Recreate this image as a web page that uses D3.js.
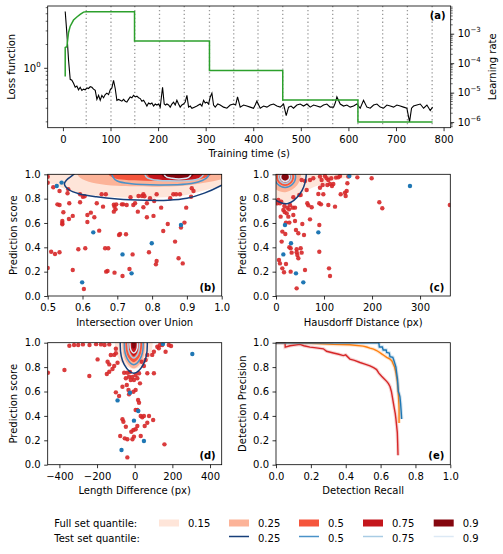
<!DOCTYPE html>
<html>
<head>
<meta charset="utf-8">
<script src="https://cdn.jsdelivr.net/npm/d3@7"></script>
<style>
  body { margin: 0; background: #fff; }
  svg { font-family: "DejaVu Sans", sans-serif; font-size: 10px; }
</style>
</head>
<body>
<svg id="viz"></svg>
<script>
// ---------- data ----------

// (a) loss over training time [s, loss]
const lossCurve = [
  [4.8,5.34],[8.3,2.79],[11.8,1.26],[15.3,0.71],[18.8,0.69],[22.3,0.63],[25.8,0.56],[29.3,0.58],
  [32.8,0.52],[36.3,0.56],[39.8,0.51],[43.3,0.53],[46.8,0.52],[50.4,0.55],[53.9,0.54],[57.4,0.57],
  [60.9,0.56],[64.4,0.53],[67.9,0.51],[71.4,0.39],[74.9,0.44],[78.4,0.38],[81.9,0.44],[85.4,0.41],
  [88.9,0.45],[92.4,0.47],[95.9,0.45],[99.4,0.52],[102.9,0.55],[106.4,0.69],[109.9,0.54],[113.4,0.38],
  [116.9,0.39],[120.4,0.38],[123.9,0.37],[127.4,0.39],[130.9,0.37],[134.4,0.36],[137.9,0.39],[141.4,0.42],
  [144.9,0.41],[148.4,0.44],[152.0,0.42],[155.5,0.43],[159.0,0.41],[162.5,0.40],[166.0,0.37],[169.5,0.38],
  [173.0,0.35],[176.5,0.32],[180.0,0.35],[183.5,0.34],[187.0,0.35],[190.5,0.32],[194.0,0.34],[197.5,0.33],
  [201.0,0.34],[204.5,0.31],[209.4,0.56],[212.9,0.34],[215.7,0.33],[218.5,0.34],[222.0,0.33],[225.5,0.31],
  [229.0,0.34],[232.5,0.36],[236.0,0.33],[239.5,0.38],[243.0,0.34],[246.5,0.31],[250.0,0.33],[253.5,0.34],
  [257.0,0.36],[260.6,0.44],[264.1,0.31],[267.6,0.32],[271.1,0.30],[276.3,0.31],[281.6,0.32],[285.1,0.33],
  [288.6,0.34],[292.1,0.32],[295.6,0.38],[299.1,0.35],[302.6,0.36],[306.1,0.34],[309.6,0.42],[313.1,0.47],
  [316.6,0.33],[320.1,0.31],[325.4,0.34],[330.6,0.33],[337.6,0.31],[344.6,0.30],[351.6,0.33],[358.6,0.34],
  [363.0,0.33],[367.0,0.42],[372.6,0.31],[379.6,0.33],[386.6,0.32],[393.6,0.31],[400.6,0.30],[404.1,0.33],
  [407.6,0.37],[414.7,0.30],[421.7,0.32],[428.7,0.31],[435.7,0.33],[442.7,0.34],[449.7,0.32],[456.7,0.31],
  [463.7,0.34],[469.3,0.24],[474.2,0.31],[479.5,0.32],[484.7,0.30],[491.7,0.33],[498.7,0.34],[505.7,0.32],
  [512.7,0.34],[519.7,0.31],[526.7,0.33],[533.7,0.32],[540.7,0.31],[547.7,0.33],[554.7,0.34],[561.7,0.31],
  [568.8,0.31],[572.3,0.35],[575.8,0.42],[582.8,0.34],[589.8,0.32],[596.8,0.33],[603.8,0.31],[610.8,0.32],
  [617.8,0.34],[624.8,0.30],[631.8,0.38],[638.9,0.31],[645.9,0.30],[652.9,0.33],[659.9,0.34],[666.9,0.31],
  [673.9,0.30],[680.9,0.33],[687.9,0.32],[694.9,0.31],[701.9,0.33],[708.9,0.32],[715.9,0.31],[722.9,0.30],
  [728.5,0.20],[732.7,0.30],[736.9,0.32],[744.0,0.33],[751.0,0.34],[758.0,0.30],[765.0,0.33],[772.0,0.28],
  [776.9,0.31]
];
// (a) learning rate [s, lr]
const lrCurve = [
  [4.8,3.5e-5],[4.8,3.4e-4],[8.3,3.6e-4],[11.8,1.1e-3],[15.3,1.8e-3],[22.3,2.9e-3],[29.3,3.7e-3],
  [36.3,4.5e-3],[43.3,5.4e-3],[49,5.6e-3],[150.5,5.6e-3],[150.5,5.6e-4],[308,5.6e-4],[308,5.6e-5],
  [462,5.6e-5],[462,5.6e-6],[620,5.6e-6],[620,1e-6],[776.9,1e-6]
];
const epochTimes = [49, 101, 151, 203, 255, 308, 359, 410, 462, 515, 567, 620, 672, 724, 776];
const timeTicks = [0, 100, 200, 300, 400, 500, 600, 700, 800];
const lrTicks = [1e-3, 1e-4, 1e-5, 1e-6];
const lossMinorTicks = [0.2, 0.3, 0.4, 0.5, 0.6, 0.7, 0.8, 0.9, 2, 3, 4, 5, 6];

// (b) IoU vs prediction score
const iouRed = [
  [0.5,0.98],[0.5,0.93],[0.5,0.23],[0.516,0.893],[0.51,0.364],[0.521,0.345],[0.534,0.359],[0.528,0.753],
  [0.534,0.748],[0.545,0.688],[0.542,0.616],[0.542,0.589],[0.542,0.60],[0.534,0.863],[0.557,0.844],
  [0.559,0.877],[0.561,0.633],[0.562,0.762],[0.572,0.658],[0.572,0.214],[0.588,0.384],[0.593,0.77],
  [0.593,0.836],[0.601,0.816],[0.604,0.058],[0.608,0.392],[0.606,0.82],[0.614,0.666],[0.614,0.608],
  [0.624,0.685],[0.634,0.647],[0.641,0.762],[0.648,0.537],[0.655,0.836],[0.659,0.734],[0.667,0.836],
  [0.665,0.392],[0.668,0.2],[0.672,0.205],[0.674,0.392],[0.69,0.75],[0.692,0.734],[0.697,0.753],
  [0.695,0.712],[0.69,0.693],[0.692,0.192],[0.705,0.501],[0.708,0.51],[0.713,0.753],[0.717,0.753],
  [0.715,0.164],[0.725,0.507],[0.727,0.748],[0.735,0.222],[0.738,0.811],[0.744,0.342],[0.746,0.748],
  [0.751,0.762],[0.759,0.693],[0.761,0.822],[0.771,0.822],[0.775,0.836],[0.778,0.82],[0.775,0.729],
  [0.785,0.762],[0.785,0.647],[0.791,0.359],[0.794,0.803],[0.804,0.658],[0.806,0.781],[0.811,0.26],
  [0.813,0.288],[0.813,0.836],[0.826,0.726],[0.832,0.534],[0.845,0.592],[0.852,0.803],[0.861,0.836],
  [0.869,0.836],[0.88,0.836],[0.866,0.447],[0.876,0.31],[0.883,0.562],[0.888,0.268],[0.893,0.603],
  [0.898,0.726],[0.914,0.885],[0.912,0.816],[0.919,0.863]
];
const iouBlue = [[0.526,0.904],[0.54,0.932],[0.631,0.523],[0.599,0.112],[0.715,0.342],[0.741,0.186],[0.799,0.433],[0.883,0.584]];

// (c) Hausdorff distance vs prediction score
const hausRed = [
  [4.9,0.789],[2.8,0.762],[8.3,0.762],[11,0.775],[9.7,0.652],[11.8,0.447],[13.2,0.529],[6.2,0.296],
  [8.3,0.268],[13.2,0.227],[16.7,0.195],[20.8,0.263],[15.3,0.707],[18,0.69],[22.2,0.679],[20.8,0.603],
  [19.4,0.51],[17.4,0.74],[23.6,0.726],[25.7,0.652],[27.1,0.712],[27.8,0.603],[29.2,0.748],[27.8,0.40],
  [30.5,0.392],[32.6,0.356],[30.5,0.2],[36.1,0.811],[35,0.726],[36.1,0.666],[39.6,0.726],[39.6,0.616],
  [41.6,0.542],[43,0.384],[43,0.36],[44.4,0.337],[46.5,0.31],[43,0.063],[46.5,0.515],[48.6,0.83],
  [51.4,0.83],[51.4,0.392],[53.4,0.356],[54.8,0.592],[58.3,0.501],[60.4,0.214],[63.9,0.871],[65.2,0.762],
  [67.3,0.745],[70.8,0.63],[74.3,0.729],[53.4,0.953],[60.4,0.945],[70.8,0.953],[77.7,0.967],[91.6,0.981],
  [95,0.953],[97.2,0.912],[98.6,0.836],[102,0.986],[105.5,0.967],[106.9,0.912],[109,0.953],[112.5,0.92],
  [115,0.967],[116.6,0.904],[119.4,0.92],[125,0.973],[129.8,0.975],[133.3,0.986],[134.7,0.836],[143.7,0.849],
  [145.1,0.822],[147.2,0.863],[148.6,0.926],[150.6,0.981],[169.4,0.975],[199.2,0.967],[215.2,0.77],
  [221.4,0.721],[362,0.748],[90.2,0.762],[93.7,0.753],[88.2,0.838],[91.6,0.89],[109,0.748],[122.9,0.734],
  [90.2,0.584],[90.2,0.364],[110.4,0.227],[112.5,0.164]
];
const hausBlue = [[18.7,0.584],[15.3,0.342],[31.2,0.433],[41.6,0.186],[56.9,0.112],[88.2,0.523],[152.7,0.986],[279,0.904]];

// (d) length difference vs prediction score
const lenRed = [
  [-461,0.754],[-373,0.776],[-241,0.727],[-347,0.975],[-322,0.981],[-300,0.981],[-275,0.986],[-240,0.981],
  [-205,0.988],[-179,0.986],[-160,0.981],[-135,0.986],[-127,0.899],[-197,0.863],[-144,0.844],[-135,0.822],
  [-109,0.809],[-100,0.913],[-91,0.836],[-148,0.743],[-135,0.762],[-118,0.784],[-100,0.593],[-83,0.563],
  [-65,0.639],[-56,0.754],[-47,0.708],[-42,0.653],[-39,0.754],[-30,0.721],[-25,0.76],[-33,0.612],
  [-30,0.577],[-21,0.694],[-12,0.72],[-4,0.694],[5,0.735],[14,0.708],[23,0.749],[-7,0.598],[5,0.612],
  [18,0.53],[23,0.508],[67,0.749],[102,0.749],[28,0.667],[14,0.448],[5,0.448],[32,0.399],[40,0.388],
  [49,0.399],[76,0.399],[98,0.366],[67,0.344],[-65,0.372],[-60,0.352],[-47,0.311],[-18,0.27],[-7,0.284],
  [5,0.29],[14,0.317],[32,0.235],[53,0.317],[-77,0.235],[-53,0.216],[-39,0.208],[-12,0.208],[-4,0.23],
  [158,0.167],[-39,0.06],[67,0.9],[93,0.9],[102,0.926],[120,0.967],[128,0.954],[134,0.981],[146,0.981],
  [164,0.926],[181,0.981],[193,0.973],[37,0.844],[49,0.809],[58,0.858],[-100,0.95],[-109,0.9]
];
const lenBlue = [[-91,0.527],[-25,0.59],[19,0.44],[-4,0.361],[49,0.194],[-70,0.12],[150,0.989],[306,0.907]];

// (e) precision-recall curves [recall, precision]
const prBlue = [
  [0,1.0],[0.59,1.0],[0.593,0.965],[0.61,0.965],[0.615,0.94],[0.632,0.94],[0.635,0.92],[0.65,0.915],
  [0.654,0.885],[0.67,0.88],[0.675,0.86],[0.683,0.824],[0.688,0.8],[0.692,0.753],[0.697,0.7],[0.702,0.6],
  [0.707,0.58],[0.711,0.557],[0.715,0.5],[0.717,0.46],[0.721,0.375]
];
const prOrange = [
  [0,1.0],[0.138,1.0],[0.233,0.994],[0.329,0.986],[0.424,0.983],[0.5,0.972],[0.52,0.965],[0.539,0.955],
  [0.56,0.948],[0.577,0.936],[0.595,0.92],[0.606,0.908],[0.62,0.895],[0.635,0.88],[0.654,0.866],
  [0.665,0.85],[0.673,0.824],[0.68,0.8],[0.686,0.768],[0.692,0.72],[0.696,0.683],[0.7,0.62],[0.702,0.571],
  [0.705,0.5],[0.706,0.459],[0.706,0.342]
];
const prRed = [
  [0,1.0],[0.052,1.0],[0.053,0.964],[0.08,0.975],[0.138,0.986],[0.16,0.975],[0.195,0.964],[0.22,0.96],
  [0.272,0.95],[0.29,0.93],[0.329,0.916],[0.36,0.905],[0.386,0.894],[0.4,0.9],[0.424,0.866],[0.45,0.855],
  [0.482,0.838],[0.51,0.825],[0.539,0.81],[0.56,0.795],[0.577,0.78],[0.59,0.75],[0.606,0.725],[0.62,0.705],
  [0.635,0.683],[0.645,0.665],[0.654,0.641],[0.662,0.6],[0.669,0.543],[0.674,0.5],[0.679,0.459],
  [0.684,0.42],[0.688,0.375],[0.692,0.32],[0.696,0.263],[0.698,0.179],[0.7,0.078]
];

// quantile contours (vertices in data units)
const iouFullContours = [
  [[0.47,0.96],[0.52,0.915],[0.56,0.87],[0.62,0.83],[0.70,0.812],[0.80,0.808],[0.88,0.82],[0.94,0.86],[1.0,0.91],[1.05,0.97],[1.05,1.2],[0.75,1.2],[0.47,1.2]],
  [[0.58,1.2],[0.585,1.0],[0.60,0.96],[0.64,0.925],[0.70,0.905],[0.80,0.898],[0.88,0.903],[0.95,0.93],[1.0,0.96],[1.05,1.0],[1.05,1.2]],
  [[0.67,1.2],[0.675,1.0],[0.69,0.97],[0.72,0.955],[0.78,0.947],[0.85,0.945],[0.91,0.952],[0.95,0.97],[0.97,1.0],[0.975,1.2]],
  [[0.785,1.2],[0.79,0.985],[0.81,0.962],[0.85,0.95],[0.90,0.952],[0.935,0.97],[0.948,1.0],[0.95,1.2]],
  [[0.826,1.2],[0.83,0.985],[0.85,0.966],[0.88,0.96],[0.905,0.968],[0.918,0.99],[0.92,1.2]]
];
const iouTestContours = [
  [[0.59,1.06],[0.575,1.0],[0.555,0.955],[0.548,0.92],[0.56,0.875],[0.59,0.84],[0.64,0.815],[0.70,0.797],[0.78,0.787],[0.845,0.787],[0.90,0.803],[0.95,0.845],[1.0,0.91],[1.03,0.96],[1.05,1.2],[0.6,1.2]],
  [[0.684,1.2],[0.687,0.98],[0.70,0.945],[0.74,0.922],[0.82,0.913],[0.90,0.92],[0.94,0.945],[0.96,0.98],[0.966,1.2]],
  [[0.78,1.2],[0.783,0.98],[0.80,0.958],[0.85,0.946],[0.90,0.948],[0.935,0.965],[0.948,1.0],[0.952,1.2]],
  [[0.835,1.2],[0.838,0.985],[0.858,0.967],[0.885,0.963],[0.905,0.975],[0.912,1.0],[0.914,1.2]]
];
const hausFullContours = [
  [[170,1.0],[120,0.95],[70,0.88],[40,0.80],[20,0.765],[0,0.77],[-20,0.82],[-30,1.0],[0,1.15],[100,1.1]],
  [[52,0.99],[44,0.91],[22,0.855],[2,0.87],[-10,0.95],[0,1.07],[25,1.1],[50,1.06]],
  [[37.7,0.978],[32.1,0.926],[19,0.904],[5.9,0.926],[0.3,0.978],[5.9,1.03],[19,1.052],[32.1,1.03]],
  [[30.5,0.978],[27.1,0.947],[19,0.933],[10.9,0.947],[7.5,0.978],[10.9,1.01],[19,1.023],[27.1,1.01]],
  [[26.3,0.978],[24.1,0.958],[19,0.949],[13.9,0.958],[11.7,0.978],[13.9,0.998],[19,1.007],[24.1,0.998]]
];
const hausTestContours = [
  [[62,0.96],[50,0.84],[25,0.76],[5,0.775],[-15,0.85],[-25,0.98],[-10,1.15],[30,1.2],[60,1.08]],
  [[40.8,0.978],[34.3,0.918],[19,0.892],[3.7,0.918],[-2.8,0.978],[3.7,1.038],[19,1.064],[34.3,1.038]],
  [[32.5,0.978],[28.5,0.941],[19,0.925],[9.5,0.941],[5.5,0.978],[9.5,1.015],[19,1.031],[28.5,1.015]],
  [[28.4,0.978],[25.6,0.952],[19,0.941],[12.4,0.952],[9.6,0.978],[12.4,1.004],[19,1.015],[25.6,1.004]]
];
const lenFullContours = [
  [[95,0.985],[65,0.845],[-5,0.785],[-75,0.845],[-105,0.985],[-75,1.15],[-5,1.22],[65,1.15]],
  [[55,0.985],[37,0.848],[-5,0.79],[-47,0.848],[-65,0.985],[-47,1.12],[-5,1.18],[37,1.12]],
  [[39,0.985],[25.8,0.884],[-5,0.84],[-35.8,0.884],[-49,0.985],[-35.8,1.086],[-5,1.13],[25.8,1.086]],
  [[19,0.985],[11.8,0.919],[-5,0.89],[-21.8,0.919],[-29,0.985],[-21.8,1.05],[-5,1.08],[11.8,1.05]],
  [[6,0.985],[2.7,0.96],[-5,0.95],[-12.7,0.96],[-16,0.985],[-12.7,1.01],[-5,1.02],[2.7,1.01]]
];
const lenTestContours = [
  [[67,0.985],[45.4,0.82],[-5,0.75],[-55.4,0.82],[-77,0.985],[-55.4,1.15],[-5,1.22],[45.4,1.15]],
  [[45,0.985],[30,0.87],[-5,0.82],[-40,0.87],[-55,0.985],[-40,1.1],[-5,1.15],[30,1.1]],
  [[26,0.985],[16.7,0.908],[-5,0.875],[-26.7,0.908],[-36,0.985],[-26.7,1.062],[-5,1.095],[16.7,1.062]],
  [[15,0.985],[9,0.936],[-5,0.915],[-19,0.936],[-25,0.985],[-19,1.034],[-5,1.055],[9,1.034]]
];

const fullLevels = ["0.15", "0.25", "0.5", "0.75", "0.9"];
const testLevels = ["0.25", "0.5", "0.75", "0.9"];
const fullColors = ["#fee5d9", "#fcb398", "#f5553c", "#c4161c", "#85070f"];
const testColors = ["#173f7a", "#4a92c8", "#a9cce4", "#dce9f5"];

// ---------- drawing ----------
const width = 503, height = 554;
const svg = d3.select("#viz").attr("width", width).attr("height", height);

let translate = (x, y) => "translate(" + x + "," + y + ")";

function styleAxis(g) {
  g.select(".domain").remove();
  g.selectAll(".tick line").attr("stroke", "#000").attr("stroke-width", 0.8);
  g.selectAll(".tick text").attr("fill", "#000").attr("font-size", 10).attr("font-family", "DejaVu Sans");
}

function frame(box) {
  svg.append("rect")
    .attr("x", box.left).attr("y", box.top)
    .attr("width", box.right - box.left).attr("height", box.bottom - box.top)
    .attr("fill", "none").attr("stroke", "#000").attr("stroke-width", 0.8);
}

function clip(id, box) {
  svg.append("clipPath").attr("id", id).append("rect")
    .attr("x", box.left).attr("y", box.top)
    .attr("width", box.right - box.left).attr("height", box.bottom - box.top);
}

// powers of ten as "10" with a raised exponent
function powLabel(sel, exp) {
  sel.text("");
  sel.append("tspan").text("10");
  sel.append("tspan").attr("dy", -5).attr("font-size", 7).text(exp);
}

function minorTicks(g, scale, values, dir) {
  g.selectAll("line.minor").data(values).join("line")
    .attr("class", "minor")
    .attr("x1", 0).attr("x2", 2 * dir)
    .attr("y1", d => scale(d)).attr("y2", d => scale(d))
    .attr("stroke", "#000").attr("stroke-width", 0.6);
}

// ----- panel (a) -----
function drawTraining() {
  const box = {left: 47.7, right: 450.7, top: 6, bottom: 127.7};
  clip("clip-a", box);

  const x = d3.scaleLinear().domain([-32, 815]).range([box.left, box.right]);
  const yLoss = d3.scaleLog().domain([0.168, 6.3]).range([box.bottom, box.top]);
  const yLr = d3.scaleLog().domain([Math.pow(10, -6.19), Math.pow(10, -2.06)]).range([box.bottom, box.top]);

  const plot = svg.append("g").attr("clip-path", "url(#clip-a)");

  plot.selectAll("line.epoch").data(epochTimes).join("line")
    .attr("class", "epoch")
    .attr("x1", d => x(d)).attr("x2", d => x(d))
    .attr("y1", box.top).attr("y2", box.bottom)
    .attr("stroke", "#999").attr("stroke-width", 1.3).attr("stroke-dasharray", "1.3,2.6");

  plot.append("path").datum(lossCurve)
    .attr("fill", "none").attr("stroke", "#000").attr("stroke-width", 1.1)
    .attr("d", d3.line().x(d => x(d[0])).y(d => yLoss(d[1])));

  plot.append("path").datum(lrCurve)
    .attr("fill", "none").attr("stroke", "#2ca02c").attr("stroke-width", 1.5)
    .attr("d", d3.line().x(d => x(d[0])).y(d => yLr(d[1])));

  frame(box);

  svg.append("g").attr("transform", translate(0, box.bottom))
    .call(d3.axisBottom(x).tickValues(timeTicks).tickSize(3.5).tickPadding(4.5))
    .call(styleAxis);

  // left log axis: one labelled decade and minor ticks
  const left = svg.append("g").attr("transform", translate(box.left, 0))
    .call(d3.axisLeft(yLoss).tickValues([1]).tickSize(3.5).tickPadding(3.5))
    .call(styleAxis);
  left.selectAll(".tick text").each(function() { powLabel(d3.select(this), "0"); });
  minorTicks(left, yLoss, lossMinorTicks, -1);

  const right = svg.append("g").attr("transform", translate(box.right, 0))
    .call(d3.axisRight(yLr).tickValues(lrTicks).tickSize(3.5).tickPadding(3.5))
    .call(styleAxis);
  right.selectAll(".tick text").each(function(d) {
    powLabel(d3.select(this), "\u2212" + Math.round(-Math.log10(d)));
  });
  const lrMinor = yLr.ticks().filter(d => Math.abs(Math.log10(d) - Math.round(Math.log10(d))) > 1e-6);
  minorTicks(right, yLr, lrMinor, 1);

  svg.append("text").attr("x", (box.left + box.right) / 2).attr("y", box.bottom + 29.5)
    .attr("text-anchor", "middle").text("Training time (s)");
  svg.append("text").attr("transform", translate(11, (box.top + box.bottom) / 2) + " rotate(-90)")
    .attr("text-anchor", "middle").attr("dy", "0.35em").text("Loss function");
  svg.append("text").attr("transform", translate(492.5, (box.top + box.bottom) / 2) + " rotate(-90)")
    .attr("text-anchor", "middle").attr("dy", "0.35em").text("Learning rate");
  svg.append("text").attr("x", box.right - 5).attr("y", box.top + 13)
    .attr("text-anchor", "end").attr("font-weight", "bold").text("(a)");
}

// ----- scatter + contour panels (b), (c), (d) -----
function drawScatter(id, box, xDomain, xTicks, xFmt, xLabel, tag, fullC, testC, red, blue) {
  clip("clip-" + id, box);
  const x = d3.scaleLinear().domain(xDomain).range([box.left, box.right]);
  const y = d3.scaleLinear().domain([0, 1]).range([box.bottom, box.top]);
  const shape = d3.line().x(d => x(d[0])).y(d => y(d[1])).curve(d3.curveCatmullRomClosed);

  const plot = svg.append("g").attr("clip-path", "url(#clip-" + id + ")");

  plot.append("g").selectAll("path").data(fullC).join("path")
    .attr("d", shape).attr("fill", (d, i) => fullColors[i]);

  plot.append("g").selectAll("circle").data(red).join("circle")
    .attr("cx", d => x(d[0])).attr("cy", d => y(d[1])).attr("r", 2.2)
    .attr("fill", "#d62728").attr("fill-opacity", 0.9);
  plot.append("g").selectAll("circle").data(blue).join("circle")
    .attr("cx", d => x(d[0])).attr("cy", d => y(d[1])).attr("r", 2.2)
    .attr("fill", "#1f77b4");

  plot.append("g").selectAll("path").data(testC).join("path")
    .attr("d", shape).attr("fill", "none")
    .attr("stroke", (d, i) => testColors[i]).attr("stroke-width", 1.5);

  frame(box);
  axesFor(box, x, y, xTicks, xFmt, xLabel, "Prediction score", tag);
}

function axesFor(box, x, y, xTicks, xFmt, xLabel, yLabel, tag) {
  svg.append("g").attr("transform", translate(0, box.bottom))
    .call(d3.axisBottom(x).tickValues(xTicks).tickFormat(d3.format(xFmt)).tickSize(3.5).tickPadding(4.5))
    .call(styleAxis);
  svg.append("g").attr("transform", translate(box.left, 0))
    .call(d3.axisLeft(y).tickValues([0, 0.2, 0.4, 0.6, 0.8, 1]).tickFormat(d3.format(".1f")).tickSize(3.5).tickPadding(3.5))
    .call(styleAxis);

  svg.append("text").attr("x", (box.left + box.right) / 2).attr("y", box.bottom + 29.5)
    .attr("text-anchor", "middle").text(xLabel);
  svg.append("text").attr("transform", translate(box.left - 34, (box.top + box.bottom) / 2) + " rotate(-90)")
    .attr("text-anchor", "middle").attr("dy", "0.35em").text(yLabel);
  svg.append("text").attr("x", box.right - 6).attr("y", box.bottom - 5.5)
    .attr("text-anchor", "end").attr("font-weight", "bold").text(tag);
}

// ----- panel (e) -----
function drawPR() {
  const box = {left: 276, right: 450.3, top: 342.7, bottom: 464.7};
  clip("clip-e", box);
  const x = d3.scaleLinear().domain([0, 1]).range([box.left, box.right]);
  const y = d3.scaleLinear().domain([0, 1]).range([box.bottom, box.top]);
  const line = d3.line().x(d => x(d[0])).y(d => y(d[1]));

  const plot = svg.append("g").attr("clip-path", "url(#clip-e)");
  const curves = [[prRed, "#d62728"], [prOrange, "#ff7f0e"], [prBlue, "#1f77b4"]];
  curves.forEach(([pts, col]) => {
    plot.append("path").datum(pts).attr("d", line)
      .attr("fill", "none").attr("stroke", col).attr("stroke-width", 3.5).attr("stroke-opacity", 0.2);
    plot.append("path").datum(pts).attr("d", line)
      .attr("fill", "none").attr("stroke", col).attr("stroke-width", 1.4);
  });

  frame(box);
  axesFor(box, x, y, [0, 0.2, 0.4, 0.6, 0.8, 1], ".1f", "Detection Recall", "Detection Precision", "(e)");
}

// ----- legend -----
function drawLegend() {
  const colX = [159, 229, 299, 363, 433.7];
  const rowFull = 523, rowTest = 538;

  svg.append("text").attr("x", 54.3).attr("y", rowFull).attr("dy", "0.35em").text("Full set quantile:");
  svg.append("text").attr("x", 54.3).attr("y", rowTest).attr("dy", "0.35em").text("Test set quantile:");

  const full = svg.append("g").selectAll("g").data(fullLevels).join("g")
    .attr("transform", (d, i) => translate(colX[i], rowFull));
  full.append("rect").attr("x", 0).attr("y", -3.5).attr("width", 20).attr("height", 7)
    .attr("fill", (d, i) => fullColors[i]);
  full.append("text").attr("x", 29).attr("dy", "0.35em").text(d => d);

  const test = svg.append("g").selectAll("g").data(testLevels).join("g")
    .attr("transform", (d, i) => translate(colX[i + 1], rowTest - 1.5));
  test.append("line").attr("x1", 0).attr("x2", 20)
    .attr("stroke", (d, i) => testColors[i]).attr("stroke-width", 1.5);
  test.append("text").attr("x", 29).attr("y", 1.5).attr("dy", "0.35em").text(d => d);
}

drawTraining();
drawScatter("b", {left: 47.7, right: 221.7, top: 174.3, bottom: 296}, [0.5, 1.0], [0.5, 0.6, 0.7, 0.8, 0.9, 1.0], ".1f",
  "Intersection over Union", "(b)", iouFullContours, iouTestContours, iouRed, iouBlue);
drawScatter("c", {left: 276, right: 450.3, top: 174.3, bottom: 296}, [0, 363], [0, 100, 200, 300], "d",
  "Hausdorff Distance (px)", "(c)", hausFullContours, hausTestContours, hausRed, hausBlue);
drawScatter("d", {left: 47.7, right: 221.7, top: 342.7, bottom: 464.7}, [-462, 462], [-400, -200, 0, 200, 400], "d",
  "Length Difference (px)", "(d)", lenFullContours, lenTestContours, lenRed, lenBlue);
drawPR();
drawLegend();
</script>
</body>
</html>
